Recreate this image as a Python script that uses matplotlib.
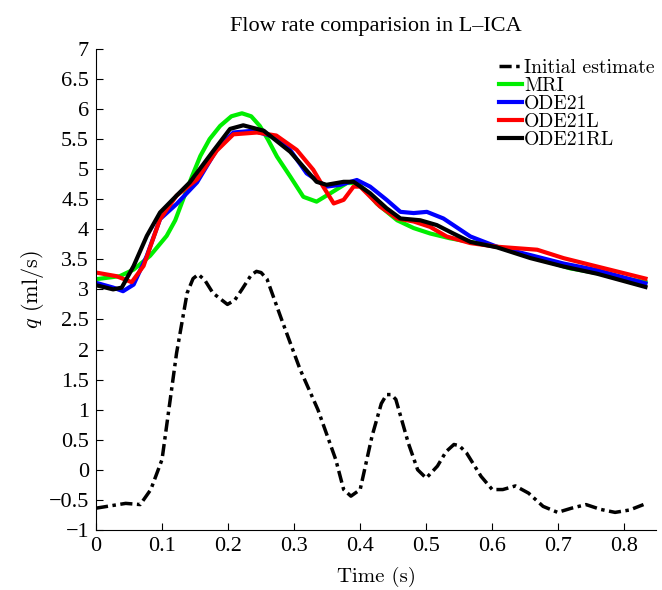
import numpy as np
import matplotlib
matplotlib.use("Agg")
import matplotlib.pyplot as plt
from matplotlib.ticker import FuncFormatter, MultipleLocator

plt.rcParams['font.family'] = 'serif'
plt.rcParams['font.serif'] = ['cmr10', 'DejaVu Serif']
plt.rcParams['mathtext.fontset'] = 'cm'
plt.rcParams['axes.unicode_minus'] = True

# initial estimate
t_init = [0, 0.045, 0.067, 0.083, 0.1, 0.122, 0.138, 0.147, 0.155, 0.165, 0.177, 0.199,
          0.21, 0.221, 0.235, 0.243, 0.25, 0.259, 0.281, 0.309, 0.336, 0.363, 0.375,
          0.386, 0.4, 0.418, 0.432, 0.44, 0.447, 0.454, 0.473, 0.487, 0.5, 0.517, 0.53,
          0.542, 0.55, 0.561, 0.583, 0.6, 0.616, 0.635, 0.655, 0.677, 0.699, 0.72, 0.742,
          0.764, 0.786, 0.808, 0.829]
q_init = [-0.64, -0.56, -0.58, -0.33, 0.17, 1.94, 2.94, 3.18, 3.25, 3.15, 2.94, 2.75,
          2.82, 3.0, 3.24, 3.3, 3.28, 3.17, 2.5, 1.67, 1.0, 0.17, -0.33,
          -0.44, -0.33, 0.56, 1.1, 1.25, 1.25, 1.17, 0.44, 0.0, -0.14, 0.06, 0.3,
          0.42, 0.4, 0.28, -0.11, -0.33, -0.33, -0.27, -0.39, -0.61, -0.71, -0.64, -0.58,
          -0.66, -0.71, -0.67, -0.58]

# MRI
t_mri = [0, 0.036, 0.057, 0.082, 0.107, 0.12, 0.132, 0.145, 0.158, 0.172, 0.188, 0.205,
         0.221, 0.235, 0.248, 0.26, 0.274, 0.294, 0.314, 0.334, 0.355, 0.38, 0.395,
         0.41, 0.425, 0.456, 0.481, 0.506, 0.536, 0.567, 0.607, 0.658, 0.718, 0.759, 0.832]
q_mri = [3.17, 3.22, 3.33, 3.56, 3.89, 4.15, 4.5, 4.87, 5.22, 5.5, 5.72, 5.88,
         5.93, 5.88, 5.72, 5.5, 5.21, 4.88, 4.54, 4.46, 4.60, 4.77, 4.77,
         4.63, 4.43, 4.15, 4.02, 3.93, 3.85, 3.79, 3.71, 3.55, 3.35, 3.27, 3.12]

# ODE21
t_ode = [0, 0.026, 0.041, 0.057, 0.077, 0.097, 0.122, 0.153, 0.183, 0.208, 0.238, 0.273,
         0.294, 0.319, 0.349, 0.37, 0.395, 0.415, 0.44, 0.461, 0.481, 0.501, 0.526,
         0.552, 0.567, 0.607, 0.658, 0.708, 0.759, 0.832]
q_ode = [3.11, 3.03, 2.97, 3.08, 3.56, 4.17, 4.42, 4.78, 5.33, 5.61, 5.64, 5.53,
         5.32, 4.93, 4.71, 4.74, 4.82, 4.71, 4.49, 4.29, 4.27, 4.29, 4.18,
         3.99, 3.88, 3.71, 3.57, 3.43, 3.32, 3.10]

# ODE21L
t_odel = [0, 0.031, 0.054, 0.072, 0.097, 0.122, 0.153, 0.183, 0.208, 0.244, 0.273, 0.304,
          0.329, 0.344, 0.36, 0.375, 0.39, 0.4, 0.43, 0.456, 0.481, 0.506, 0.531,
          0.567, 0.607, 0.668, 0.708, 0.759, 0.832]
q_odel = [3.28, 3.22, 3.12, 3.39, 4.17, 4.56, 4.83, 5.31, 5.58, 5.61, 5.56, 5.32,
          4.99, 4.71, 4.43, 4.49, 4.71, 4.71, 4.38, 4.18, 4.13, 4.04, 3.88,
          3.77, 3.71, 3.66, 3.52, 3.38, 3.18]

# ODE21RL
t_oderl = [0, 0.026, 0.039, 0.057, 0.077, 0.097, 0.122, 0.142, 0.178, 0.203, 0.223, 0.254,
           0.294, 0.314, 0.334, 0.349, 0.375, 0.39, 0.415, 0.44, 0.461, 0.491, 0.516,
           0.541, 0.567, 0.607, 0.658, 0.708, 0.759, 0.832]
q_oderl = [3.07, 3.0, 3.03, 3.39, 3.89, 4.28, 4.56, 4.78, 5.31, 5.67, 5.73, 5.64,
           5.29, 5.04, 4.79, 4.74, 4.79, 4.79, 4.60, 4.35, 4.18, 4.15, 4.07,
           3.93, 3.79, 3.70, 3.52, 3.38, 3.26, 3.04]

fig = plt.figure(figsize=(6.62, 5.90), dpi=100)
ax = fig.add_axes([0.145, 0.102, 0.846, 0.815])

ax.plot(t_init, q_init, color='k', lw=2.5, ls=(0, (3.5, 1.3, 1.0, 1.3)),
        label='Initial estimate')
ax.plot(t_mri, q_mri, color='#00ee00', lw=3, solid_joinstyle='round', label='MRI')
ax.plot(t_ode, q_ode, color='#0000ff', lw=3, solid_joinstyle='round', label='ODE21')
ax.plot(t_odel, q_odel, color='#ff0000', lw=3, solid_joinstyle='round', label='ODE21L')
ax.plot(t_oderl, q_oderl, color='k', lw=3, solid_joinstyle='round', label='ODE21RL')

ax.set_xlim(0, 0.848)
ax.set_ylim(-1, 7)
ax.xaxis.set_major_locator(MultipleLocator(0.1))
ax.yaxis.set_major_locator(MultipleLocator(0.5))
fmt = FuncFormatter(lambda v, p: ('%g' % round(v, 2)).replace('-', '\u2212'))
ax.xaxis.set_major_formatter(fmt)
ax.yaxis.set_major_formatter(fmt)
ax.tick_params(direction='in', length=5, labelsize=16, top=False, right=False, pad=5)
for lab in ax.get_xticklabels() + ax.get_yticklabels():
    lab.set_family('Liberation Serif')
ax.spines['top'].set_visible(False)
ax.spines['right'].set_visible(False)

ax.set_title('Flow rate comparision in L\u2013ICA', fontsize=16, pad=13,
             family='Liberation Serif')
ax.set_xlabel('Time (s)', fontsize=15, labelpad=8)
ax.set_ylabel('$q$ (ml/s)', fontsize=16, labelpad=2)

ax.legend(loc='upper right', frameon=False, fontsize=14.2, handlelength=1.2,
          handletextpad=0.1, labelspacing=0.0, borderaxespad=0.0,
          bbox_to_anchor=(1.012, 0.995))

plt.savefig('out.png', dpi=100)
